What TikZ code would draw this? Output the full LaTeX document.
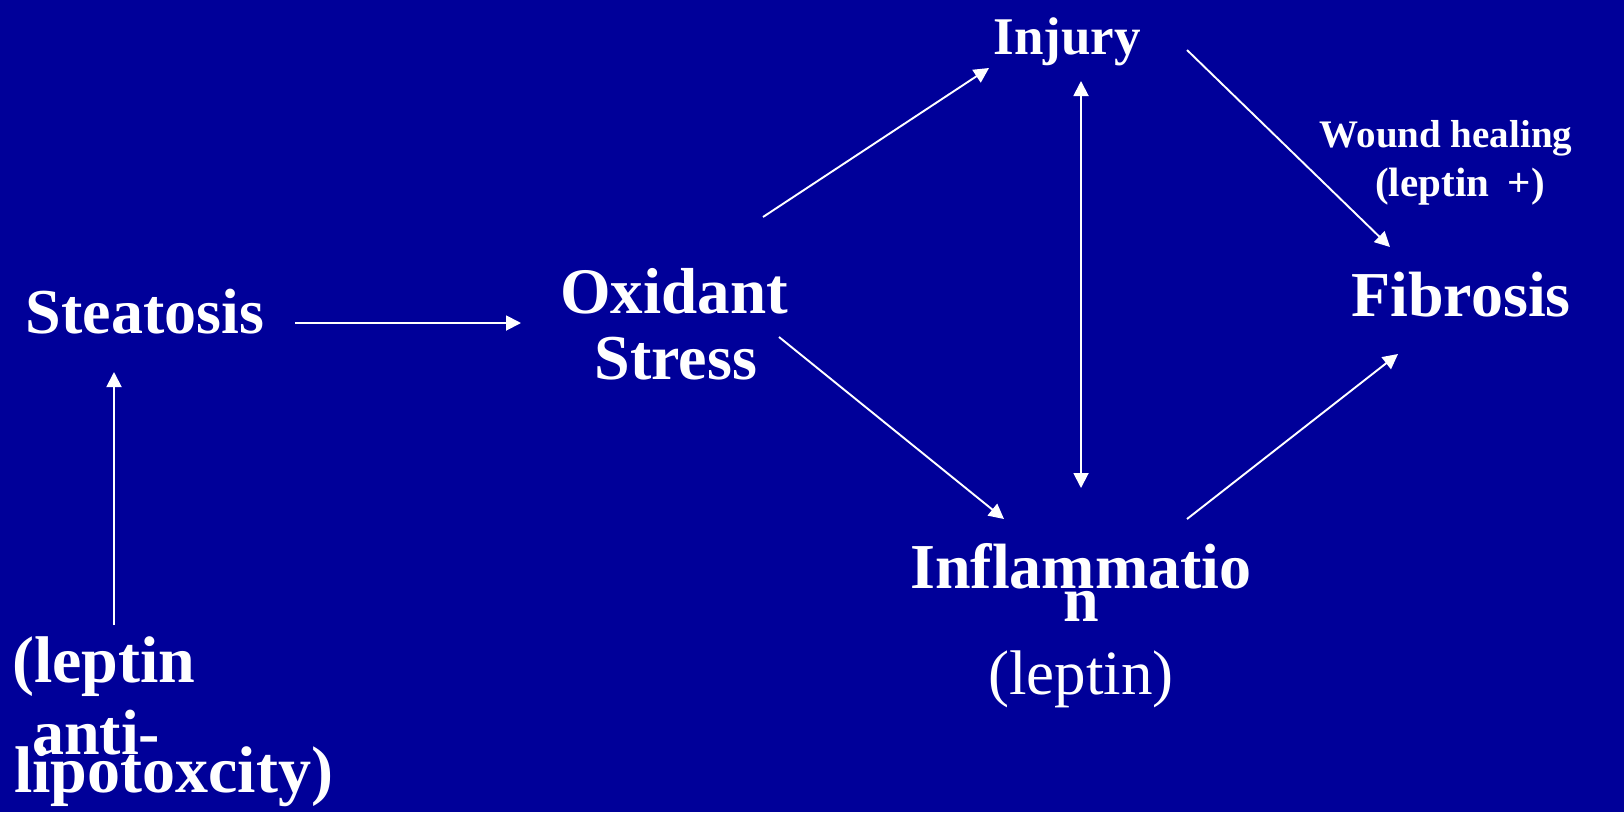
\documentclass[tikz,border=0pt]{standalone}
\usepackage{fontspec}
\setmainfont{Liberation Serif}
\usetikzlibrary{arrows.meta}
\definecolor{bgblue}{RGB}{0,0,153}
\begin{document}
\begin{tikzpicture}[x=1pt,y=-1pt,
  lbl/.style={text=white,inner sep=0pt,anchor=base,font=\fontsize{64}{64}\selectfont\bfseries},
  lblreg/.style={text=white,inner sep=0pt,anchor=base,font=\fontsize{63}{63}\selectfont},
  small/.style={text=white,inner sep=0pt,anchor=base,font=\fontsize{39}{39}\selectfont\bfseries},
  conn/.style={draw=white,line width=1.9pt,-{Triangle[length=15pt,width=15pt]}},
  conn2/.style={draw=white,line width=1.9pt,{Triangle[length=15pt,width=15pt]}-{Triangle[length=15pt,width=15pt]}}]
\fill[bgblue] (0,0) rectangle (1624,812);
\useasboundingbox (0,0) rectangle (1624,812);
% nodes
\node[lbl] (ste) at (145,333) {Steatosis};
\node[lbl,font=\fontsize{65}{65}\selectfont\bfseries] (ox1) at (674,313) {Oxidant};
\node[lbl] (ox2) at (676,379) {Stress};
\node[lbl,font=\fontsize{53}{53}\selectfont\bfseries] (inj) at (1067,54) {Injury};
\node[lbl] (fib) at (1461,316) {Fibrosis};
\node[small] (wh1) at (1446,147) {Wound healing};
\node[small,font=\fontsize{41}{41}\selectfont\bfseries] (wh2) at (1460,196) {(leptin \hspace{0.2em}+)};
\node[lbl] (inf1) at (1081,588) {Inflammatio};
\node[lbl] (inf2) at (1081,621) {n};
\node[lblreg] (inf3) at (1081,694) {(leptin)};
\node[lbl,anchor=base west,font=\fontsize{66}{66}\selectfont\bfseries] (lep1) at (12,682) {(leptin};
\node[lbl,anchor=base west,font=\fontsize{64}{64}\selectfont\bfseries] (lep2) at (32,754) {anti-};
\node[lbl,anchor=base west,font=\fontsize{66}{66}\selectfont\bfseries] (lep3) at (14,792) {lipotoxcity)};
% connector end points
\coordinate (c1a) at (295,323);  \coordinate (c1b) at (521,323);
\coordinate (c2a) at (763,217);  \coordinate (c2b) at (989,68);
\coordinate (c3a) at (1187,50);  \coordinate (c3b) at (1390,247);
\coordinate (c4a) at (1081,81);  \coordinate (c4b) at (1081,488);
\coordinate (c5a) at (779,337);  \coordinate (c5b) at (1004,519);
\coordinate (c6a) at (1187,519); \coordinate (c6b) at (1398,354);
\coordinate (c7a) at (114,625);  \coordinate (c7b) at (114,372);
% connectors
\draw[conn] (c1a) -- (c1b);
\draw[conn] (c2a) -- (c2b);
\draw[conn] (c3a) -- (c3b);
\draw[conn2] (c4a) -- (c4b);
\draw[conn] (c5a) -- (c5b);
\draw[conn] (c6a) -- (c6b);
\draw[conn] (c7a) -- (c7b);
\end{tikzpicture}
\end{document}
